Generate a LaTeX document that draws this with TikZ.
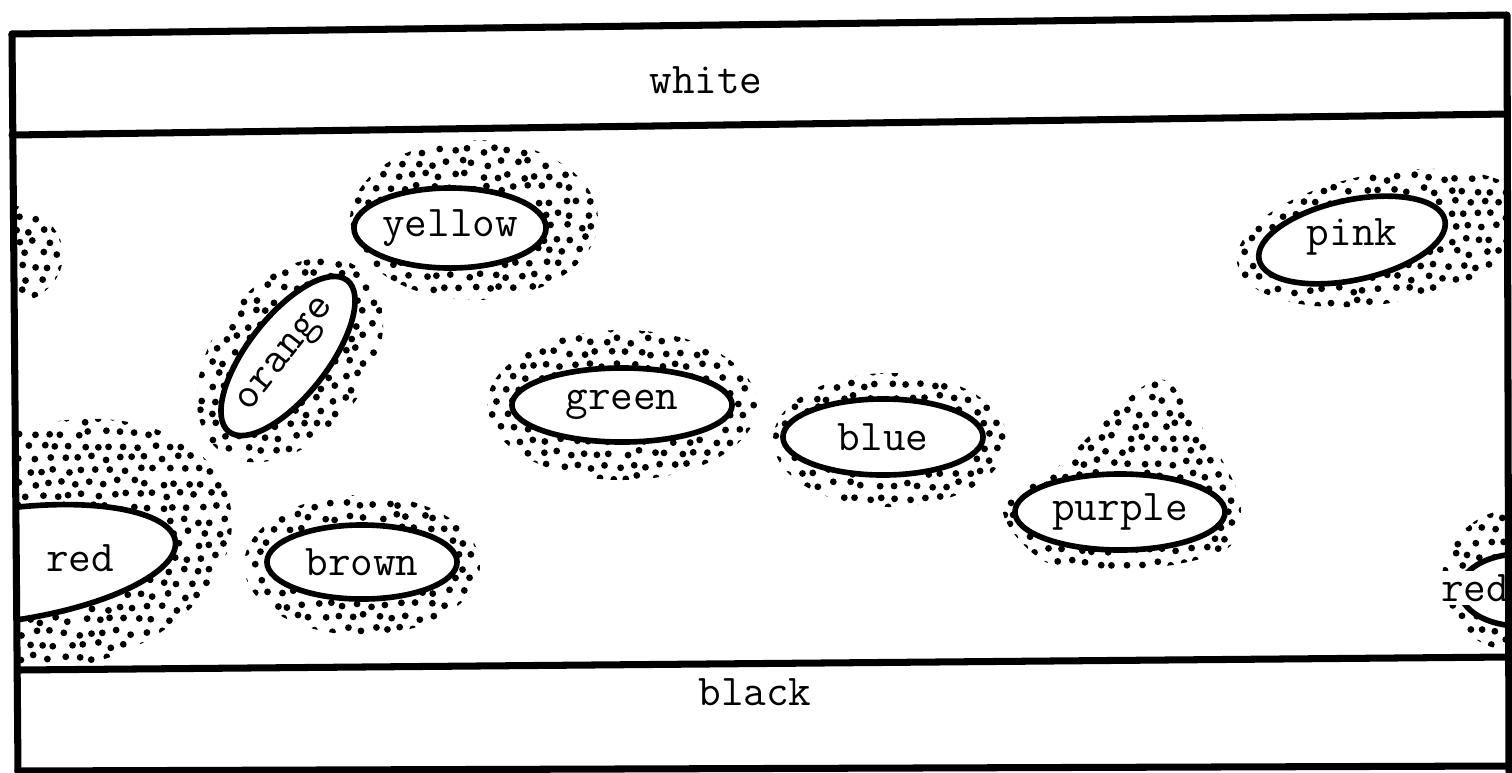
\documentclass[tikz,border=0pt]{standalone}
\usetikzlibrary{shapes.geometric}

\tikzset{
  frame line/.style={line width=2pt, line cap=round, line join=round},
  blob line/.style={line width=1.6pt},
  blob/.style={draw, ellipse, blob line, fill=white, inner sep=0pt,
    font=\fontsize{12.5}{15}\selectfont\ttfamily},
  blob text/.style={inner sep=0pt, font=\fontsize{12.5}{15}\selectfont\ttfamily},
  halo dot/.style={fill=black}
}

% jittered grid of dots: x0, y0, width, height
\newcommand{\dotcloud}[4]{%
  \pgfmathtruncatemacro\ncols{#3/14}%
  \pgfmathtruncatemacro\nrows{#4/12.5}%
  \foreach \i in {0,...,\ncols}{%
    \foreach \j in {0,...,\nrows}{%
      \fill[halo dot] ({#1+14*\i+7*mod(\j,2)+3.5*rand},{#2+12.5*\j+3*rand}) circle (3.4);
    }%
  }%
}

\begin{document}
\begin{tikzpicture}[x=0.01cm, y=-0.01cm]
  \pgfmathsetseed{1912}
  \useasboundingbox (0,0) rectangle (1512,772);

  % middle band: clouds and blobs are cut off at its edges
  \begin{scope}
    \clip (12,135) -- (1507,114) -- (1509,657) -- (18,670) -- cycle;

    % cloud at the left edge, no blob visible
    \begin{scope}
      \clip (5,255) ellipse [x radius=58, y radius=50];
      \dotcloud{0}{205}{65}{100}
    \end{scope}

    % yellow
    \begin{scope}
      \clip (474,220) ellipse [x radius=124, y radius=80];
      \dotcloud{348}{138}{255}{165}
    \end{scope}
    \node[blob, minimum width=1.76cm, minimum height=0.8cm] (yellow) at (450,228) {yellow};

    % orange
    \begin{scope}
      \clip[rotate around={52:(290,360)}] (290,360) ellipse [x radius=115, y radius=77];
      \dotcloud{190}{250}{200}{220}
    \end{scope}
    \node[blob, rotate=52, minimum width=1.55cm, minimum height=0.8cm] (orange) at (288,356) {orange};

    % red, left edge
    \begin{scope}
      \clip[rotate around={15:(60,545)}] (60,545) ellipse [x radius=175, y radius=122];
      \dotcloud{0}{420}{240}{255}
    \end{scope}
    \draw[blob line, fill=white, rotate around={8:(5,565)}] (5,565) ellipse [x radius=172, y radius=56];
    \node[blob text] (redL) at (80,558) {red};

    % brown
    \begin{scope}
      \clip (362,565) ellipse [x radius=118, y radius=70];
      \dotcloud{240}{492}{250}{150}
    \end{scope}
    \node[blob, minimum width=1.9cm, minimum height=0.74cm] (brown) at (362,562) {brown};

    % green
    \begin{scope}
      \clip (622,405) ellipse [x radius=135, y radius=75];
      \dotcloud{485}{328}{275}{160}
    \end{scope}
    \node[blob, minimum width=2.2cm, minimum height=0.74cm] (green) at (622,405) {green};

    % blue
    \begin{scope}
      \clip (890,440) ellipse [x radius=117, y radius=67];
      \dotcloud{772}{372}{240}{140}
    \end{scope}
    \node[blob, minimum width=2.0cm, minimum height=0.76cm] (blue) at (883,437) {blue};

    % purple, cloud with a peak
    \begin{scope}
      \clip plot[smooth cycle] coordinates {(1003,510) (1060,465) (1120,405) (1165,380)
        (1210,440) (1240,500) (1228,548) (1150,568) (1050,564)};
      \dotcloud{995}{375}{250}{195}
    \end{scope}
    \node[blob, minimum width=2.1cm, minimum height=0.76cm] (purple) at (1120,512) {purple};

    % pink
    \begin{scope}
      \clip[rotate around={10:(1385,238)}] (1385,238) ellipse [x radius=150, y radius=65];
      \dotcloud{1225}{165}{290}{150}
    \end{scope}
    \draw[blob line, fill=white, rotate around={12:(1352,240)}] (1352,240) ellipse [x radius=95, y radius=40];
    \node[blob text] (pink) at (1352,237) {pink};

    % red, right edge
    \begin{scope}
      \clip (1520,580) ellipse [x radius=78, y radius=72];
      \dotcloud{1440}{505}{75}{160}
    \end{scope}
    \draw[blob line, fill=white] (1520,590) ellipse [x radius=60, y radius=36];
    \node[blob text, fill=white, inner sep=1pt] (redR) at (1475,588) {red};
  \end{scope}

  % frame and the two bands
  \draw[frame line] (12,34) -- (1507,15) -- (1509,772);
  \draw[frame line] (12,34) -- (18,772);
  \draw[frame line] (12,135) -- (1507,114);
  \draw[frame line] (18,670) -- (1509,657);
  \draw[frame line] (18,771) -- (1509,766);

  \node[blob text] (white) at (706,80) {white};
  \node[blob text] (black) at (755,692) {black};
\end{tikzpicture}
\end{document}
